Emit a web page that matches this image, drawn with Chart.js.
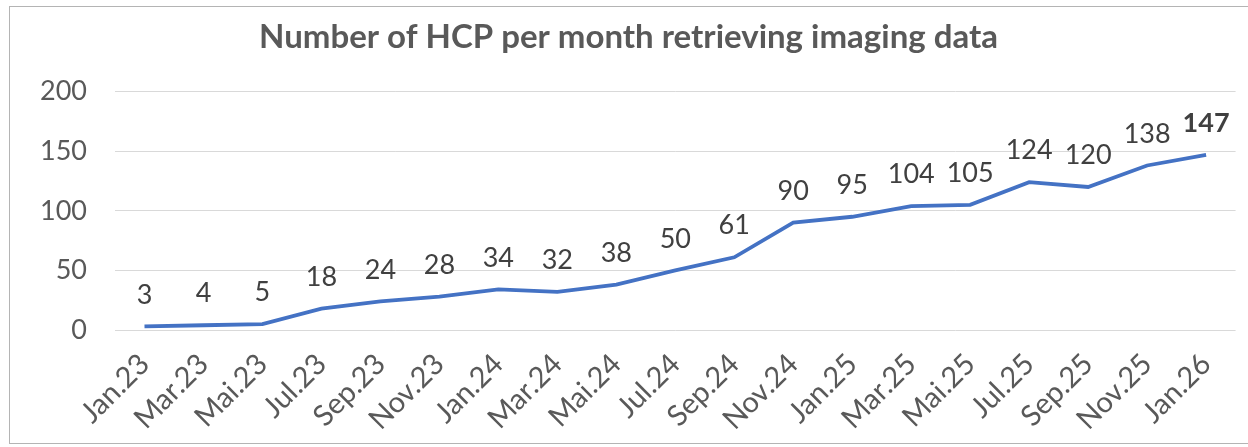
<!DOCTYPE html>
<html>
<head>
<meta charset="utf-8">
<script src="https://cdn.jsdelivr.net/npm/chart.js@4/dist/chart.umd.min.js"></script>
<style>
	html, body { margin: 0; padding: 0; background: #fff; overflow: hidden; }
	#frame {
		position: absolute; left: 9px; top: 6px; width: 1260px; height: 438px;
		border: 1px solid #b4b4b4; border-right: none; box-sizing: border-box;
	}
	#wrap { position: absolute; left: 0; top: 0; width: 1248px; height: 447px; }
</style>
</head>
<body>
<div id="frame"></div>
<div id="wrap"><canvas id="myChart" width="1248" height="447"></canvas></div>
<script>
var months = ['Jan.23', 'Mar.23', 'Mai.23', 'Jul.23', 'Sep.23', 'Nov.23', 'Jan.24', 'Mar.24', 'Mai.24', 'Jul.24',
	'Sep.24', 'Nov.24', 'Jan.25', 'Mar.25', 'Mai.25', 'Jul.25', 'Sep.25', 'Nov.25', 'Jan.26'];
var hcpCounts = [3, 4, 5, 18, 24, 28, 34, 32, 38, 50, 61, 90, 95, 104, 105, 124, 120, 138, 147];
var yTicks = [0, 50, 100, 150, 200];
var chartTitle = 'Number of HCP per month retrieving imaging data';

var fontFamily = 'Lato, "Open Sans", sans-serif';

// no datalabels plugin offline, so draw the value labels by hand
var valueLabels = {
	id: 'valueLabels',
	afterDatasetsDraw: function(chart) {
		var ctx = chart.ctx;
		var meta = chart.getDatasetMeta(0);
		var last = meta.data.length - 1;
		ctx.save();
		ctx.fillStyle = '#404040';
		ctx.textAlign = 'center';
		ctx.textBaseline = 'bottom';
		meta.data.forEach(function(pt, i) {
			ctx.font = (i === last ? 'bold ' : '') + '27px ' + fontFamily;
			ctx.fillText(String(hcpCounts[i]), pt.x, pt.y - 18);
		});
		ctx.restore();
	}
};

var ctx = document.getElementById('myChart').getContext('2d');
var chart = new Chart(ctx, {
	type: 'line',
	data: {
		labels: months,
		datasets: [{
			label: 'HCP',
			data: hcpCounts,
			borderColor: '#4472C4',
			borderWidth: 3.8,
			pointRadius: 0,
			tension: 0,
			fill: false
		}]
	},
	options: {
		responsive: false,
		animation: false,
		layout: { padding: { left: 20, right: 11, top: 0, bottom: 0 } },
		plugins: {
			legend: { display: false },
			tooltip: { enabled: false },
			title: {
				display: true,
				text: chartTitle,
				color: '#595959',
				font: { family: fontFamily, size: 33, weight: 'bold', lineHeight: 1.2 },
				padding: { top: 18, bottom: 34 }
			}
		},
		scales: {
			x: {
				offset: true,
				grid: { display: false, drawTicks: false },
				border: { display: false },
				ticks: {
					color: '#595959',
					font: { family: fontFamily, size: 29 },
					minRotation: 45,
					maxRotation: 45,
					autoSkip: false,
					padding: 17
				},
				afterFit: function(scale) { scale.height = 447 - 330; }
			},
			y: {
				min: 0,
				max: 200,
				afterBuildTicks: function(scale) {
					scale.ticks = yTicks.map(function(v) { return { value: v }; });
				},
				grid: { color: '#d9d9d9', lineWidth: 1, drawTicks: false },
				border: { display: false },
				ticks: {
					color: '#595959',
					font: { family: fontFamily, size: 27 },
					padding: 28
				},
				afterFit: function(scale) { scale.width = 95; }
			}
		}
	},
	plugins: [valueLabels]
});
</script>
</body>
</html>
